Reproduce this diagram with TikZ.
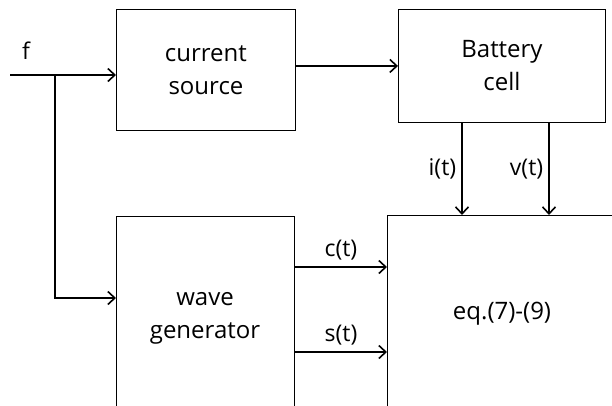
\documentclass[tikz,border=0pt]{standalone}
\usepackage{fontspec}
\setmainfont{Open Sans}
\usetikzlibrary{positioning,calc,arrows.meta}
\tikzset{
  block box/.style={
    rectangle, draw=black, line width=0.9pt,
    fill=white, inner sep=0pt,
    align=center, font=\fontsize{24}{33}\selectfont,
  },
  block text/.style={
    align=center, inner sep=0pt,
    font=\fontsize{24}{33}\selectfont,
  },
  sig line/.style={
    line width=1.6pt,
    -{Straight Barb[length=7pt,width=13pt,line width=1.6pt]},
  },
  sig label/.style={
    font=\fontsize{23}{27}\selectfont, inner sep=2pt,
  },
}

\begin{document}
\begin{tikzpicture}[x=1pt,y=-1pt]

\useasboundingbox (0,0) rectangle (612,405);
\clip (0,0) rectangle (612,405);

% --- blocks (top row) ---
\node[block box, minimum width=179pt, minimum height=121pt, anchor=north west]
  (src) at (116,9) {current\\source};
\node[block box, minimum width=207pt, minimum height=113pt, anchor=north west]
  (cell) at (398,9) {Battery\\cell};

% --- blocks (bottom row, running past the lower edge) ---
\node[block box, minimum width=178pt, minimum height=210pt, anchor=north west]
  (wave) at (116,216) {};
\node[block text] (wavetxt) at (205,318) {wave\\generator};
\node[block box, minimum width=240pt, minimum height=210pt, anchor=north west]
  (eqs) at (387,215) {};
\node[block text] (eqtxt) at (502,314) {eq.(7)-(9)};

% --- input f and its branch ---
\coordinate (fin) at (10,75);
\coordinate (fork) at (55,75);
\node[sig label] (flab) at (26,51) {f};
\draw[sig line] (fin) -- (fin -| src.west);
\draw[sig line] (fork) |- (55,298) -- (wave.west |- 0,298);

% --- source to cell ---
\draw[sig line] (src.east |- cell.west) -- (cell.west);

% --- measured signals ---
\coordinate (itap) at (462,0);
\coordinate (vtap) at (549,0);
\draw[sig line] (itap |- cell.south) -- (itap |- eqs.north)
  node[sig label, pos=0.5, left=3pt] (ilab) {i(t)};
\draw[sig line] (vtap |- cell.south) -- (vtap |- eqs.north)
  node[sig label, pos=0.5, left=3pt] (vlab) {v(t)};

% --- generated waves ---
\coordinate (ctap) at (0,267);
\coordinate (stap) at (0,352);
\draw[sig line] (wave.east |- ctap) -- (eqs.west |- ctap)
  node[sig label, midway, above=4pt] (clab) {c(t)};
\draw[sig line] (wave.east |- stap) -- (eqs.west |- stap)
  node[sig label, midway, above=4pt] (slab) {s(t)};

\end{tikzpicture}
\end{document}
